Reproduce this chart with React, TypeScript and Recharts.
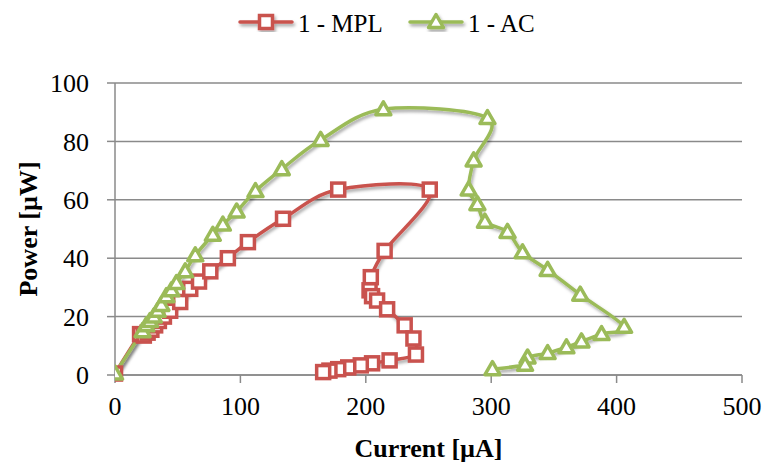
import React from 'react';
import { LineChart, Line, XAxis, YAxis, CartesianGrid } from 'recharts';

// Current [µA] / power [µW] readings for the two devices, in sweep order
const mplCurrent = [0, 20, 23, 26, 29, 32, 35, 39, 44, 52, 60, 67, 76, 90, 106, 134, 178, 251, 215, 204, 203, 205, 209, 217, 231, 238, 240, 219, 205, 196, 186, 178, 171, 166];
const mplPower = [0.5, 14, 13.5, 14.5, 15.5, 17, 18.5, 20, 22, 25, 29.5, 32, 35.5, 40, 45.5, 53.5, 63.5, 63.5, 42.5, 33.5, 29, 27, 25.5, 22.5, 17, 12.5, 7, 5, 4, 3.3, 2.6, 2, 1.5, 1];

const acCurrent = [0, 22, 25, 28, 31, 34, 37, 41, 45, 49, 56, 64, 78, 86, 97, 112, 133, 164, 214, 297, 286, 282, 289, 295, 313, 325, 345, 371, 406, 388, 372, 360, 345, 329, 327, 301];
const acPower = [0.5, 15, 17, 18.5, 20, 22, 24, 27, 29, 31.5, 35.5, 41, 48, 51.5, 56, 63, 70.5, 80.5, 91, 88, 73.5, 63.5, 58.5, 52.5, 49, 42, 36, 27.5, 16.5, 14, 11.5, 9.5, 7.5, 6, 3.5, 2];

const xTicks = [0, 100, 200, 300, 400, 500];
const yTicks = [0, 20, 40, 60, 80, 100];

const seriesNames = ['1 - MPL', '1 - AC'];
const RED = '#C9524E';
const GREEN = '#9BBB59';

const mplData = mplCurrent.map((x, i) => ({ x, y: mplPower[i] }));
const acData = acCurrent.map((x, i) => ({ x, y: acPower[i] }));

// Smoothed scatter line: cubic Bezier segments through every point
// (Catmull-Rom style tangents), works for curves that double back in x.
function smoothCurve(context: any) {
  let pts: [number, number][] = [];
  return {
    areaStart() {},
    areaEnd() {},
    lineStart() {
      pts = [];
    },
    point(x: number, y: number) {
      pts.push([+x, +y]);
    },
    lineEnd() {
      const n = pts.length;
      if (!n) return;
      context.moveTo(pts[0][0], pts[0][1]);
      for (let i = 0; i < n - 1; i++) {
        const p0 = pts[Math.max(0, i - 1)];
        const p1 = pts[i];
        const p2 = pts[i + 1];
        const p3 = pts[Math.min(n - 1, i + 2)];
        context.bezierCurveTo(
          p1[0] + (p2[0] - p0[0]) / 6,
          p1[1] + (p2[1] - p0[1]) / 6,
          p2[0] - (p3[0] - p1[0]) / 6,
          p2[1] - (p3[1] - p1[1]) / 6,
          p2[0],
          p2[1]
        );
      }
    },
  };
}

const SquareMark = ({ cx, cy, color }: { cx: number; cy: number; color: string }) => (
  <rect x={cx - 6.5} y={cy - 6.5} width={13} height={13} fill="#fff" stroke={color} strokeWidth={3.5} />
);

const TriangleMark = ({ cx, cy, color }: { cx: number; cy: number; color: string }) => (
  <path
    d={`M${cx},${cy - 7.5} L${cx + 7.5},${cy + 5.5} L${cx - 7.5},${cy + 5.5} Z`}
    fill="#fff"
    stroke={color}
    strokeWidth={3.5}
    strokeLinejoin="round"
  />
);

const tickStyle = { fontFamily: '"Liberation Serif", serif', fontSize: 26, fill: '#000' };
const titleStyle = { fontFamily: '"Liberation Serif", serif', fontSize: 26, fontWeight: 700, fill: '#000' };

function LegendBar() {
  return (
    <svg width={766} height={50} style={{ position: 'absolute', left: 0, top: 0, pointerEvents: 'none' }}>
      <g filter="url(#markShadow)">
        <line x1={240} y1={22} x2={292} y2={22} stroke={RED} strokeWidth={3.5} strokeLinecap="round" />
        <SquareMark cx={266} cy={22} color={RED} />
        <line x1={410} y1={22} x2={462} y2={22} stroke={GREEN} strokeWidth={3.5} strokeLinecap="round" />
        <TriangleMark cx={436} cy={22} color={GREEN} />
      </g>
      <text x={298} y={32} style={{ fontFamily: '"Liberation Serif", serif', fontSize: 25 }}>{seriesNames[0]}</text>
      <text x={468} y={32} style={{ fontFamily: '"Liberation Serif", serif', fontSize: 25 }}>{seriesNames[1]}</text>
    </svg>
  );
}

export default function App() {
  return (
    <div style={{ position: 'absolute', left: 0, top: 0, width: 766, height: 463, background: '#fff' }}>
      <svg width={0} height={0} style={{ position: 'absolute' }}>
        <defs>
          <filter id="markShadow" x="-20%" y="-20%" width="140%" height="140%">
            <feDropShadow dx={1.5} dy={2.5} stdDeviation={1.8} floodColor="#000" floodOpacity={0.35} />
          </filter>
        </defs>
      </svg>
      <style>{`.recharts-line { filter: url(#markShadow); }`}</style>
      <LineChart width={766} height={463} margin={{ top: 83, right: 24, bottom: 0, left: 0 }}>
        <CartesianGrid vertical={false} stroke="#8a8a8a" strokeWidth={1.5} />
        <XAxis
          type="number"
          dataKey="x"
          domain={[0, 500]}
          ticks={xTicks}
          height={88}
          tickSize={8}
          tickMargin={14}
          stroke="#8a8a8a"
          strokeWidth={1.5}
          tick={tickStyle}
          allowDataOverflow
          label={{ value: 'Current [µA]', position: 'insideBottom', offset: 6, style: titleStyle }}
        />
        <YAxis
          type="number"
          dataKey="y"
          domain={[0, 100]}
          ticks={yTicks}
          width={115}
          tickSize={8}
          tickMargin={18}
          stroke="#8a8a8a"
          strokeWidth={1.5}
          tick={tickStyle}
          label={{ value: 'Power [µW]', angle: -90, position: 'insideLeft', offset: 28, style: { ...titleStyle, textAnchor: 'middle' } }}
        />
        <Line
          data={mplData}
          dataKey="y"
          name={seriesNames[0]}
          type={smoothCurve as any}
          stroke={RED}
          strokeWidth={3.5}
          isAnimationActive={false}
          dot={(p: any) => <SquareMark key={`m${p.index}`} cx={p.cx} cy={p.cy} color={RED} />}
          activeDot={false}
        />
        <Line
          data={acData}
          dataKey="y"
          name={seriesNames[1]}
          type={smoothCurve as any}
          stroke={GREEN}
          strokeWidth={3.5}
          isAnimationActive={false}
          dot={(p: any) => <TriangleMark key={`a${p.index}`} cx={p.cx} cy={p.cy} color={GREEN} />}
          activeDot={false}
        />
      </LineChart>
      <LegendBar />
    </div>
  );
}
